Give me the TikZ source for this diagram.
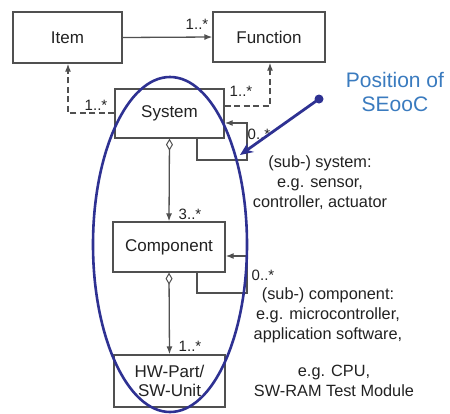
\documentclass[tikz,border=0pt]{standalone}
\usepackage{fontspec}
\setmainfont{Liberation Sans}
\usetikzlibrary{arrows.meta}
\definecolor{linegray}{HTML}{505050}
\definecolor{txtgray}{HTML}{222222}
\definecolor{navy}{HTML}{2E3192}
\definecolor{skyblue}{HTML}{3A7BBF}
\begin{document}
\begin{tikzpicture}[x=1pt,y=-1pt,
  box/.style={draw=linegray, line width=1.3pt, fill=white, inner sep=0pt, text=txtgray,
    font=\fontsize{17}{19.5}\selectfont, align=center},
  conn/.style={draw=linegray, line width=1.3pt},
  tipend/.style={-{Latex[length=8pt,width=6pt]}},
  dashedconn/.style={conn, dash pattern=on 6pt off 3.5pt},
  diamondstart/.style={{Diamond[open,length=12pt,width=7pt,line width=1pt]}-{Latex[length=8pt,width=6pt]}},
  mult/.style={font=\fontsize{15}{17}\selectfont, text=txtgray, inner sep=0pt},
  note/.style={font=\fontsize{16.3}{20}\selectfont, text=txtgray, align=center, inner sep=0pt}
]
\useasboundingbox (0,0) rectangle (450,413);
\fill[white] (0,0) rectangle (450,413);

% boxes
\node[box, minimum width=109pt, minimum height=51pt] (item) at (67.5,37.5) {Item};
\node[box, minimum width=112pt, minimum height=50pt] (func) at (269,37) {Function};
\node[box, minimum width=109pt, minimum height=49pt] (sys) at (169.5,113.5) {System};
\node[box, minimum width=112pt, minimum height=50pt] (comp) at (169,247) {Component};
\node[box, minimum width=111pt, minimum height=52pt] (hw) at (169.5,381) {HW-Part/\\SW-Unit};

% item -> function
\draw[conn, tipend] (item.east) -- (func.west);
\node[mult] (m1) at (197,24) {1..*};

% dashed from system to item / function
\coordinate (dl) at (68,113);
\draw[dashedconn, tipend] (sys.west |- dl) -- (dl) -- (item.south -| dl);
\node[mult] (m2) at (96,105) {1..*};
\coordinate (dr) at (270,106);
\draw[dashedconn, tipend] (sys.east |- dr) -- (dr) -- (func.south -| dr);
\node[mult] (m3) at (241,91) {1..*};

% system self loop
\coordinate (s1) at (197,160);
\coordinate (s2) at (247,160);
\coordinate (s3) at (247,123);
\draw[conn, tipend] (sys.south -| s1) -- (s1) -- (s2) -- (s3) -- (sys.east |- s3);
\node[mult] (m4) at (259,134) {0..*};

% aggregation system -> component
\draw[conn, diamondstart] (sys.south) -- (comp.north);
\node[mult] (m5) at (190,214) {3..*};

% component self loop
\coordinate (c1) at (197,293);
\coordinate (c2) at (247,293);
\coordinate (c3) at (247,256);
\draw[conn, tipend] (comp.south -| c1) -- (c1) -- (c2) -- (c3) -- (comp.east |- c3);
\node[mult] (m6) at (263,275) {0..*};

% aggregation component -> hw
\draw[conn, diamondstart] (comp.south) -- (hw.north);
\node[mult] (m7) at (190,346) {1..*};

% notes
\node[note] (n1) at (320,183) {(sub-) system:\\e.g. sensor,\\controller, actuator};
\node[note] (n2) at (328,315) {(sub-) component:\\e.g. microcontroller,\\application software,};
\node[note] (n3) at (334,381) {e.g. CPU,\\SW-RAM Test Module};

% ellipse
\coordinate (ellc) at (170,244.5);
\draw[navy, line width=2.6pt] (ellc) ellipse [x radius=77pt, y radius=167.5pt];

% position of SEooC
\node[font=\fontsize{21}{24}\selectfont, text=skyblue, align=center, inner sep=0pt] (pos) at (395,92) {Position of\\SEooC};
\coordinate (dot) at (319,99);
\coordinate (tipp) at (240,155);
\fill[navy] (dot) circle [radius=4.5pt];
\draw[navy, line width=2.8pt, -{Stealth[length=13pt,width=11pt]}] (dot) -- (tipp);
\end{tikzpicture}
\end{document}
